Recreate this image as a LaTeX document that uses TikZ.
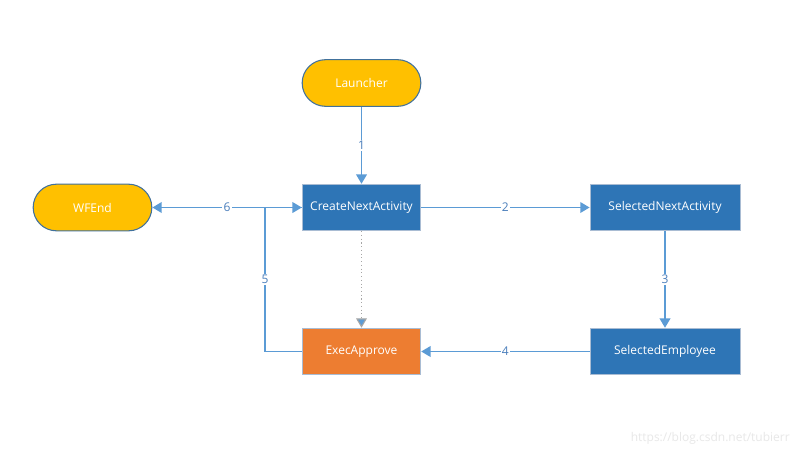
\documentclass[tikz,border=0pt]{standalone}
\usepackage{fontspec}
\setmainfont{Open Sans}
\usetikzlibrary{arrows.meta,positioning}
\definecolor{pillfill}{HTML}{FFC000}
\definecolor{pillborder}{HTML}{41719C}
\definecolor{boxblue}{HTML}{2E75B6}
\definecolor{boxborder}{HTML}{A9BCD3}
\definecolor{boxorange}{HTML}{ED7D31}
\definecolor{linkblue}{HTML}{5B9BD5}
\definecolor{labelblue}{HTML}{4A7EBB}
\definecolor{wmark}{HTML}{E8E8E8}
\tikzset{
  pill/.style={draw=pillborder, line width=0.8pt, fill=pillfill, rounded corners=17.5pt,
    minimum width=89pt, minimum height=35pt, text=white, font=\fontsize{9}{10}\selectfont, inner sep=0pt},
  bluebox/.style={draw=boxborder, line width=0.6pt, fill=boxblue, minimum width=89pt,
    minimum height=35pt, text=white, font=\fontsize{9}{10}\selectfont, inner sep=0pt},
  widebox/.style={bluebox, minimum width=112.5pt},
  orangebox/.style={bluebox, fill=boxorange},
  link/.style={draw=linkblue, line width=1.1pt, -{Triangle[width=8pt,length=7pt]}},
  plainlink/.style={draw=linkblue, line width=1.1pt},
  dotlink/.style={draw=gray!70, line width=0.8pt, dotted, -{Triangle[width=8pt,length=7pt,fill=linkblue]}},
  lbl/.style={fill=white, text=labelblue, font=\fontsize{9}{10}\selectfont, inner sep=1pt}
}
\begin{document}
\begin{tikzpicture}[x=0.75pt,y=-0.75pt]
\useasboundingbox[fill=white] (0,0) rectangle (798,456);
\node[pill] (launcher) at (361.5,83) {Launcher};
\node[bluebox] (create) at (361.5,207.5) {CreateNextActivity};
\node[pill] (wfend) at (92.5,207.5) {WFEnd};
\node[widebox] (selnext) at (665,207.5) {SelectedNextActivity};
\node[widebox] (selemp) at (665,351.5) {SelectedEmployee};
\node[orangebox] (exec) at (361.5,351.5) {ExecApprove};
\coordinate (corner) at (265,351.5);
\coordinate (junction) at (265,207.5);
\draw[link] (launcher) -- node[lbl, pos=0.5] {1} (create);
\draw[link] (create) -- node[lbl] {2} (selnext);
\draw[link] (selnext) -- node[lbl] {3} (selemp);
\draw[link] (selemp) -- node[lbl] {4} (exec);
\draw[link] (create.west) -- node[lbl, pos=0.5] {6} (wfend.east);
\draw[plainlink] (exec.west) -- (corner) -- node[lbl] {5} (junction);
\draw[link] (junction) -- (create.west);
\draw[dotlink] (create) -- (exec);
\node[text=wmark, font=\fontsize{9}{10}\selectfont, anchor=east, inner sep=0pt] (wm) at (790,438) {https://blog.csdn.net/tubierr};
\end{tikzpicture}
\end{document}
